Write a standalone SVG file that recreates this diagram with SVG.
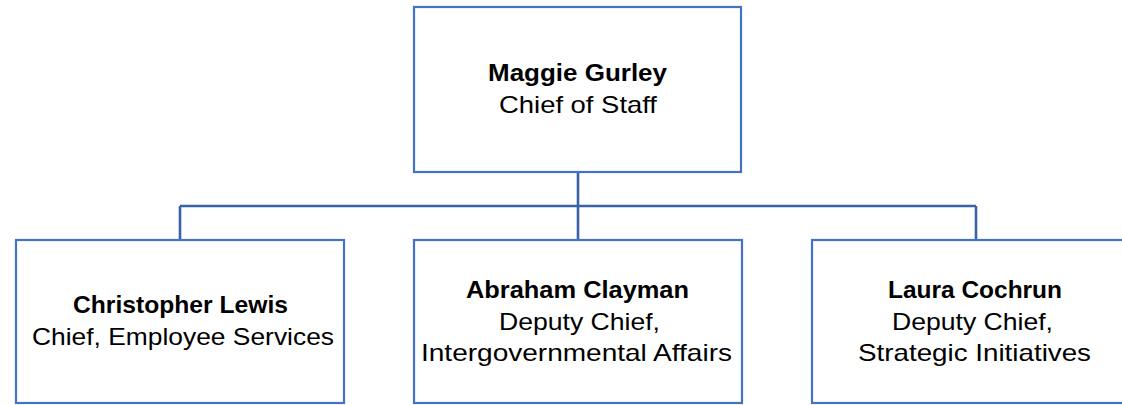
<svg xmlns="http://www.w3.org/2000/svg" width="1122" height="405" viewBox="0 0 1122 405">
<style>
.box{fill:#ffffff;stroke:#4472C4;stroke-width:2.2}
.conn{fill:none;stroke:#3A62AA;stroke-width:2.6}
text{font-family:"Liberation Sans",Arial,sans-serif;font-size:24px;fill:#000000;text-anchor:middle}
.b{font-weight:bold}
</style>
<rect width="1122" height="405" fill="#ffffff"/>
<g id="connectors">
<path class="conn" d="M578 172 V240 M180 206 H976 M180 206 V240 M976 206 V240"/>
</g>
<g id="maggie">
<rect class="box" x="414" y="7" width="327" height="165"/>
<text class="b" x="577.5" y="81" textLength="179" lengthAdjust="spacingAndGlyphs">Maggie Gurley</text>
<text x="578" y="113" textLength="158" lengthAdjust="spacingAndGlyphs">Chief of Staff</text>
</g>
<g id="christopher">
<rect class="box" x="16" y="240" width="328" height="163"/>
<text class="b" x="180.5" y="313" textLength="215" lengthAdjust="spacingAndGlyphs">Christopher Lewis</text>
<text x="183" y="345" textLength="302" lengthAdjust="spacingAndGlyphs">Chief, Employee Services</text>
</g>
<g id="abraham">
<rect class="box" x="414" y="240" width="328" height="163"/>
<text class="b" x="577.5" y="298" textLength="223" lengthAdjust="spacingAndGlyphs">Abraham Clayman</text>
<text x="579.5" y="330" textLength="161" lengthAdjust="spacingAndGlyphs">Deputy Chief,</text>
<text x="576.5" y="361" textLength="311" lengthAdjust="spacingAndGlyphs">Intergovernmental Affairs</text>
</g>
<g id="laura">
<rect class="box" x="812" y="240" width="328" height="163"/>
<text class="b" x="975" y="298" textLength="174" lengthAdjust="spacingAndGlyphs">Laura Cochrun</text>
<text x="972.5" y="330" textLength="161" lengthAdjust="spacingAndGlyphs">Deputy Chief,</text>
<text x="974.5" y="361" textLength="233" lengthAdjust="spacingAndGlyphs">Strategic Initiatives</text>
</g>
</svg>
